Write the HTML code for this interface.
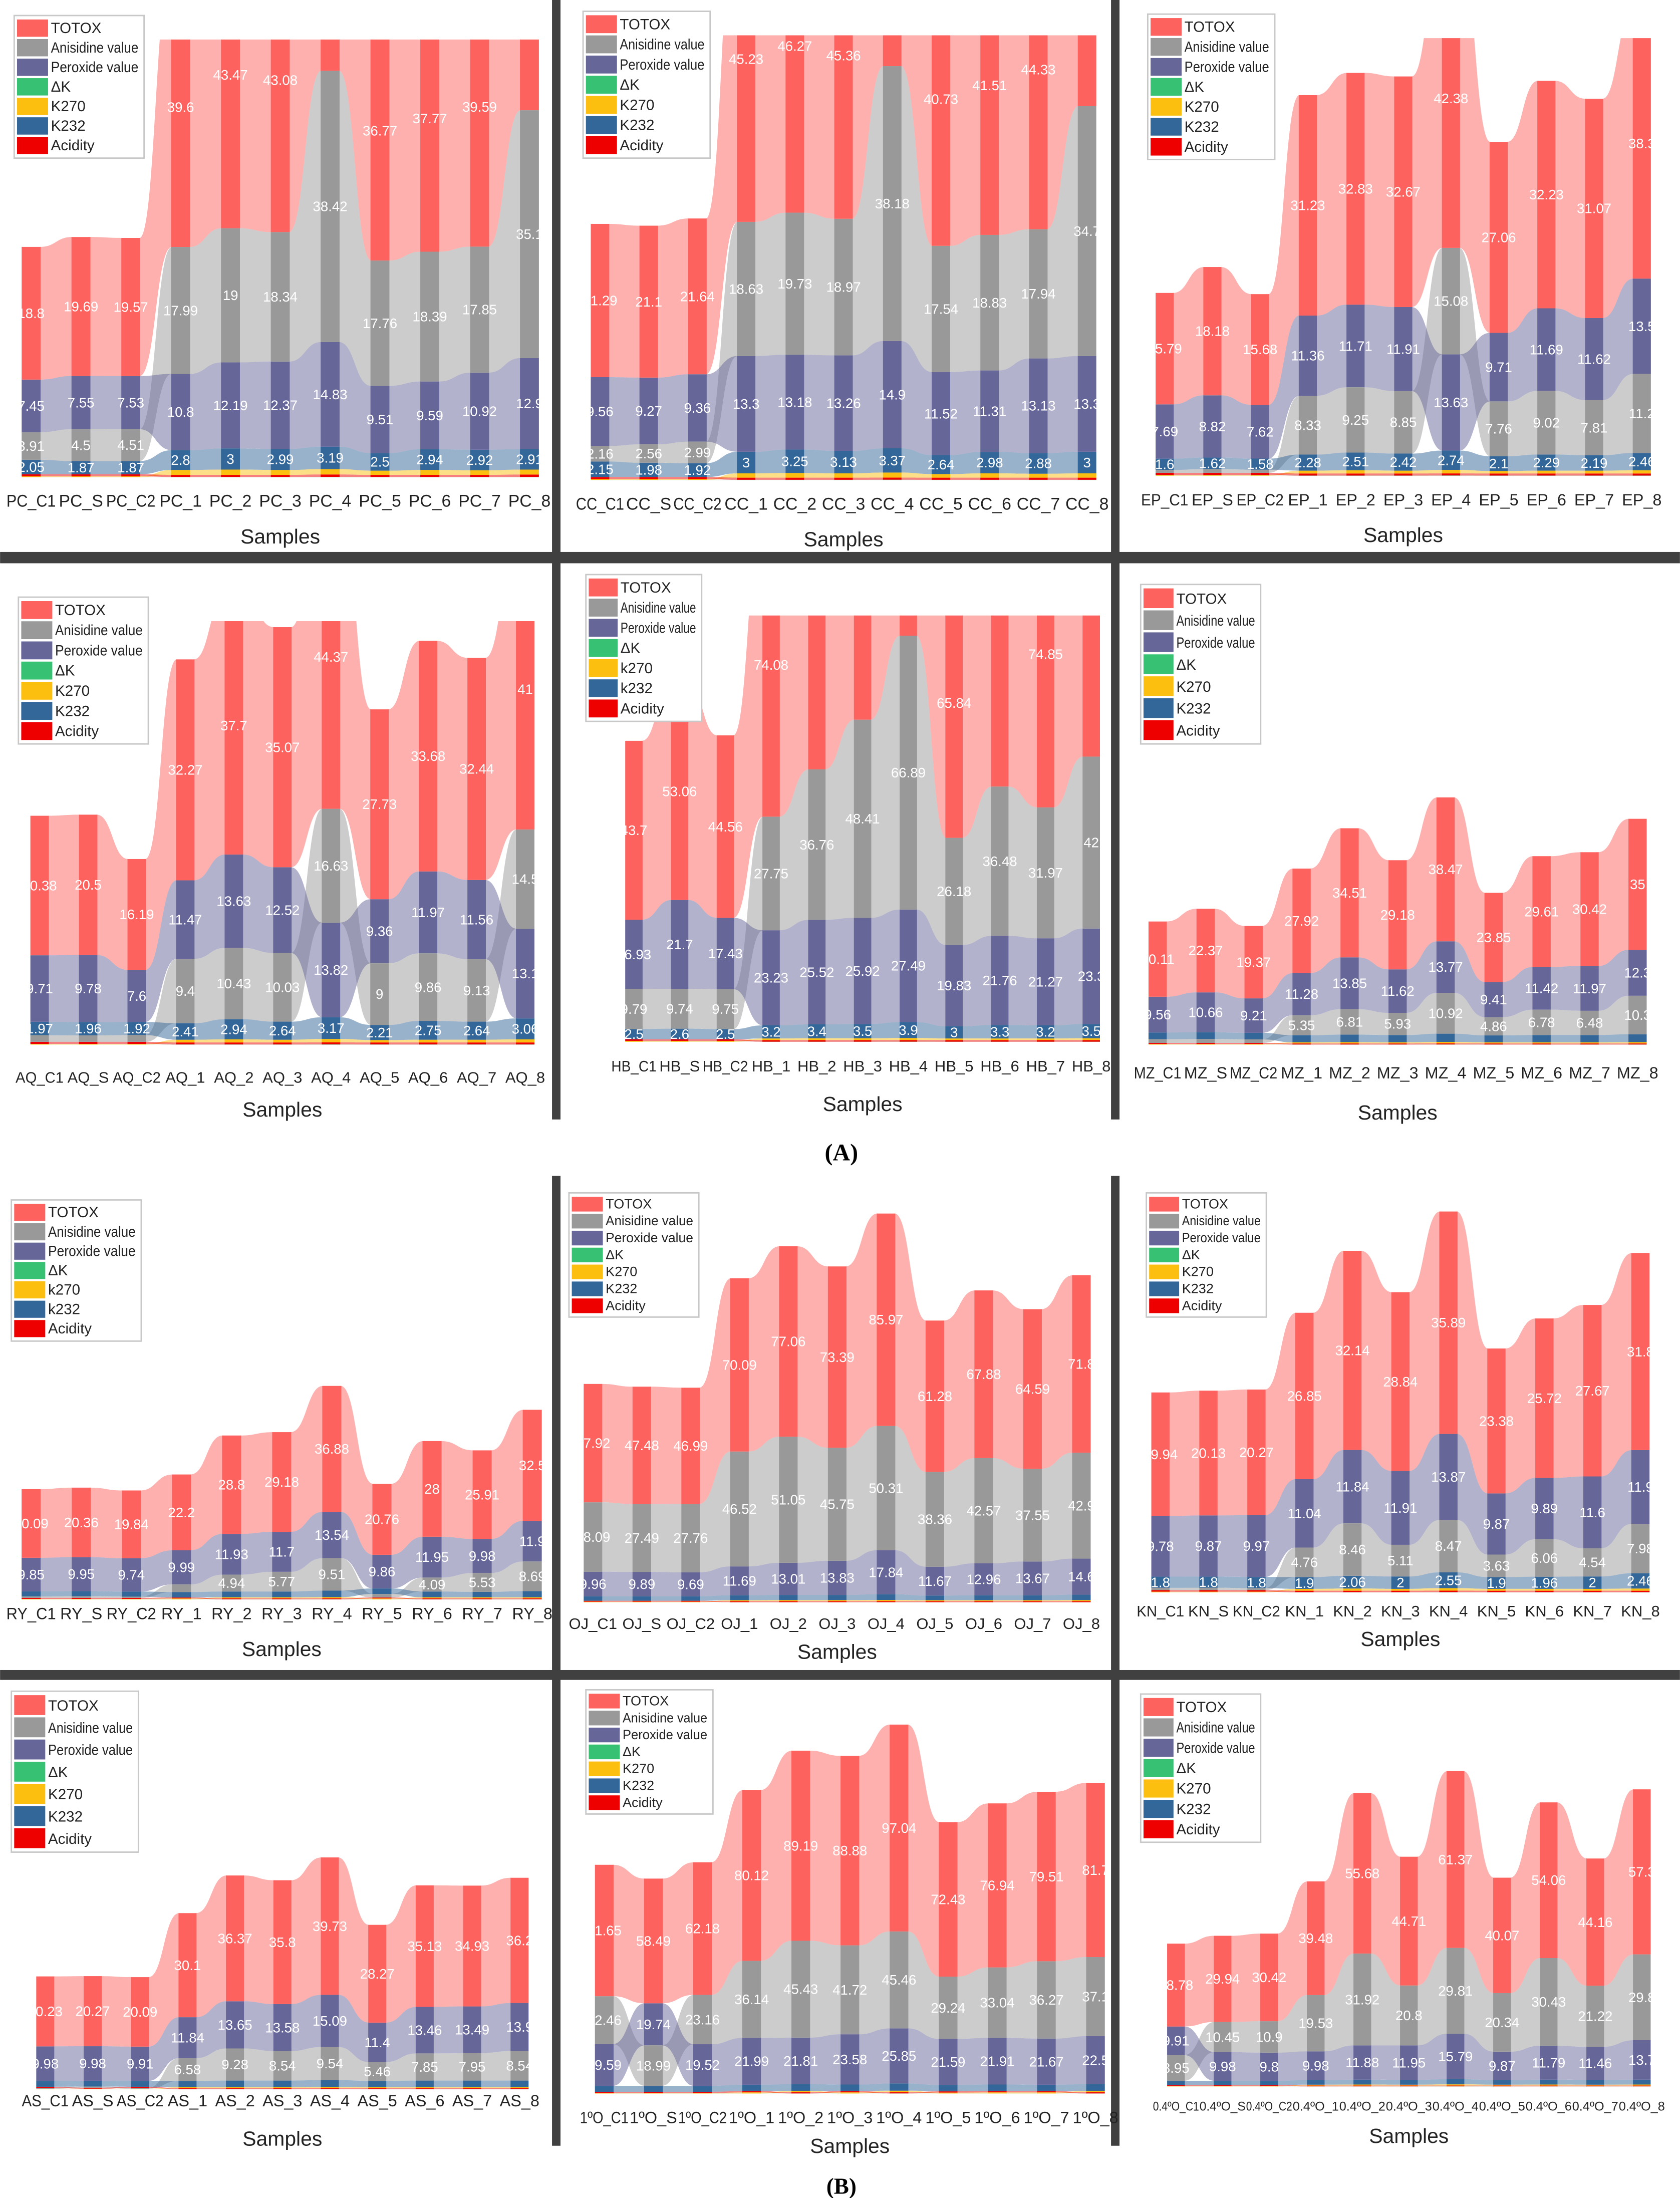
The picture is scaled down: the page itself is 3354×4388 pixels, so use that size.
<!DOCTYPE html>
<html><head><meta charset="utf-8">
<style>
html,body{margin:0;padding:0;background:#fff;}
svg{display:block;font-family:"Liberation Sans",Arial,sans-serif;}
</style></head>
<body>
<svg id="fig" width="3354" height="4388" viewBox="0 0 1190 1557" xmlns="http://www.w3.org/2000/svg">
<rect x="0" y="0" width="1190" height="1557" fill="#fff"/>
<g id="dividers" fill="#404040">
<rect x="391" y="0" width="6" height="793"/>
<rect x="787" y="0" width="6" height="793"/>
<rect x="0" y="391" width="1190" height="8"/>
<rect x="391" y="833" width="6" height="687"/>
<rect x="787" y="833" width="6" height="687"/>
<rect x="0" y="1183" width="1190" height="7"/>
</g>
<text x="596" y="822" text-anchor="middle" font-family="Liberation Serif, serif" font-size="17" font-weight="bold">(A)</text>
<text x="596" y="1554" text-anchor="middle" font-family="Liberation Serif, serif" font-size="16" font-weight="bold">(B)</text>
<g id="charts"></g>
</svg>
<script>
// ---------- data ----------
const PC_SAMPLES=["PC_C1","PC_S","PC_C2","PC_1","PC_2","PC_3","PC_4","PC_5","PC_6","PC_7","PC_8"];
const PC_TOTOX=[18.8,19.69,19.57,39.6,43.47,43.08,68.08,36.77,37.77,39.59,60.9];
const PC_AV=[3.91,4.5,4.51,17.99,19,18.34,38.42,17.76,18.39,17.85,35.1];
const PC_PV=[7.45,7.55,7.53,10.8,12.19,12.37,14.83,9.51,9.59,10.92,12.9];
const PC_K232=[2.05,1.87,1.87,2.8,3,2.99,3.19,2.5,2.94,2.92,2.91];
const PC_K270=[0.1,0.1,0.1,0.7,0.75,0.7,0.75,0.6,0.7,0.65,0.7];
const PC_ACID=[0.3,0.3,0.3,0.3,0.3,0.3,0.35,0.3,0.3,0.3,0.35];

const CC_SAMPLES=["CC_C1","CC_S","CC_C2","CC_1","CC_2","CC_3","CC_4","CC_5","CC_6","CC_7","CC_8"];
const CC_TOTOX=[21.29,21.1,21.64,45.23,46.27,45.36,68.0,40.73,41.51,44.33,61.3];
const CC_AV=[2.16,2.56,2.99,18.63,19.73,18.97,38.18,17.54,18.83,17.94,34.7];
const CC_PV=[9.56,9.27,9.36,13.3,13.18,13.26,14.9,11.52,11.31,13.13,13.3];
const CC_K232=[2.15,1.98,1.92,3,3.25,3.13,3.37,2.64,2.98,2.88,3];
const CC_K270=[0.1,0.1,0.1,0.6,0.65,0.6,0.7,0.5,0.6,0.55,0.6];
const CC_ACID=[0.3,0.3,0.3,0.3,0.3,0.3,0.3,0.3,0.3,0.3,0.3];

const EP_SAMPLES=["EP_C1","EP_S","EP_C2","EP_1","EP_2","EP_3","EP_4","EP_5","EP_6","EP_7","EP_8"];
const EP_TOTOX=[15.79,18.18,15.68,31.23,32.83,32.67,42.38,27.06,32.23,31.07,38.3];
const EP_AV=[0.41,0.54,0.44,8.33,9.25,8.85,15.08,7.76,9.02,7.81,11.2];
const EP_PV=[7.69,8.82,7.62,11.36,11.71,11.91,13.63,9.71,11.69,11.62,13.5];
const EP_K232=[1.6,1.62,1.58,2.28,2.51,2.42,2.74,2.1,2.29,2.19,2.46];
const EP_K270=[0.1,0.1,0.1,0.4,0.45,0.4,0.5,0.35,0.4,0.4,0.45];
const EP_ACID=[0.3,0.3,0.3,0.3,0.3,0.3,0.3,0.3,0.3,0.3,0.3];

const AQ_SAMPLES=["AQ_C1","AQ_S","AQ_C2","AQ_1","AQ_2","AQ_3","AQ_4","AQ_5","AQ_6","AQ_7","AQ_8"];
const AQ_TOTOX=[20.38,20.5,16.19,32.27,37.7,35.07,44.37,27.73,33.68,32.44,41.0];
const AQ_AV=[0.96,0.94,0.99,9.4,10.43,10.03,16.63,9,9.86,9.13,14.5];
const AQ_PV=[9.71,9.78,7.6,11.47,13.63,12.52,13.82,9.36,11.97,11.56,13.1];
const AQ_K232=[1.97,1.96,1.92,2.41,2.94,2.64,3.17,2.21,2.75,2.64,3.06];
const AQ_K270=[0.1,0.1,0.1,0.4,0.45,0.4,0.5,0.35,0.4,0.4,0.45];
const AQ_ACID=[0.3,0.3,0.3,0.3,0.3,0.3,0.3,0.3,0.3,0.3,0.3];

const HB_SAMPLES=["HB_C1","HB_S","HB_C2","HB_1","HB_2","HB_3","HB_4","HB_5","HB_6","HB_7","HB_8"];
const HB_TOTOX=[43.7,53.06,44.56,74.08,88.19,100.25,121.87,65.84,80.1,74.85,88.8];
const HB_AV=[9.79,9.74,9.75,27.75,36.76,48.41,66.89,26.18,36.48,31.97,42.0];
const HB_PV=[16.93,21.7,17.43,23.23,25.52,25.92,27.49,19.83,21.76,21.27,23.3];
const HB_K232=[2.5,2.6,2.5,3.2,3.4,3.5,3.9,3.0,3.3,3.2,3.5];
const HB_K270=[0.2,0.2,0.2,0.4,0.45,0.45,0.5,0.4,0.4,0.4,0.45];
const HB_ACID=[0.4,0.4,0.4,0.4,0.4,0.4,0.4,0.4,0.4,0.4,0.4];

const MZ_SAMPLES=["MZ_C1","MZ_S","MZ_C2","MZ_1","MZ_2","MZ_3","MZ_4","MZ_5","MZ_6","MZ_7","MZ_8"];
const MZ_TOTOX=[20.11,22.37,19.37,27.92,34.51,29.18,38.47,23.85,29.61,30.42,35.0];
const MZ_AV=[0.99,1.05,0.95,5.35,6.81,5.93,10.92,4.86,6.78,6.48,10.3];
const MZ_PV=[9.56,10.66,9.21,11.28,13.85,11.62,13.77,9.41,11.42,11.97,12.3];
const MZ_K232=[1.8,1.8,1.75,1.9,2.0,1.95,2.2,1.85,1.95,1.95,2.1];
const MZ_K270=[0.15,0.15,0.15,0.3,0.35,0.3,0.4,0.3,0.3,0.3,0.35];
const MZ_ACID=[0.3,0.3,0.3,0.3,0.3,0.3,0.3,0.3,0.3,0.3,0.3];

const RY_SAMPLES=["RY_C1","RY_S","RY_C2","RY_1","RY_2","RY_3","RY_4","RY_5","RY_6","RY_7","RY_8"];
const RY_TOTOX=[20.09,20.36,19.84,22.2,28.8,29.18,36.88,20.76,28,25.91,32.5];
const RY_AV=[0.39,0.46,0.36,2.22,4.94,5.77,9.51,1.04,4.09,5.53,8.69];
const RY_PV=[9.85,9.95,9.74,9.99,11.93,11.7,13.54,9.86,11.95,9.98,11.9];
const RY_K232=[1.5,1.5,1.5,1.6,1.7,1.7,1.9,1.6,1.7,1.6,1.8];
const RY_K270=[0.15,0.15,0.15,0.25,0.3,0.3,0.35,0.25,0.3,0.3,0.3];
const RY_ACID=[0.3,0.3,0.3,0.3,0.3,0.3,0.3,0.3,0.3,0.3,0.3];

const OJ_SAMPLES=["OJ_C1","OJ_S","OJ_C2","OJ_1","OJ_2","OJ_3","OJ_4","OJ_5","OJ_6","OJ_7","OJ_8"];
const OJ_TOTOX=[47.92,47.48,46.99,70.09,77.06,73.39,85.97,61.28,67.88,64.59,71.8];
const OJ_AV=[28.09,27.49,27.76,46.52,51.05,45.75,50.31,38.36,42.57,37.55,42.9];
const OJ_PV=[9.96,9.89,9.69,11.69,13.01,13.83,17.84,11.67,12.96,13.67,14.6];
const OJ_K232=[1.8,1.8,1.8,2.0,2.1,2.1,2.3,1.9,2.0,2.0,2.2];
const OJ_K270=[0.2,0.2,0.2,0.4,0.45,0.45,0.5,0.4,0.4,0.4,0.45];
const OJ_ACID=[0.4,0.4,0.4,0.4,0.4,0.4,0.4,0.4,0.4,0.4,0.4];

const KN_SAMPLES=["KN_C1","KN_S","KN_C2","KN_1","KN_2","KN_3","KN_4","KN_5","KN_6","KN_7","KN_8"];
const KN_TOTOX=[19.94,20.13,20.27,26.85,32.14,28.84,35.89,23.38,25.72,27.67,31.8];
const KN_AV=[0.38,0.39,0.33,4.76,8.46,5.11,8.47,3.63,6.06,4.54,7.98];
const KN_PV=[9.78,9.87,9.97,11.04,11.84,11.91,13.87,9.87,9.89,11.6,11.9];
const KN_K232=[1.8,1.8,1.8,1.9,2.06,2.0,2.55,1.9,1.96,2.0,2.46];
const KN_K270=[0.1,0.1,0.1,0.3,0.35,0.3,0.4,0.3,0.3,0.3,0.35];
const KN_ACID=[0.25,0.25,0.25,0.25,0.25,0.25,0.25,0.25,0.25,0.25,0.25];

const AS_SAMPLES=["AS_C1","AS_S","AS_C2","AS_1","AS_2","AS_3","AS_4","AS_5","AS_6","AS_7","AS_8"];
const AS_TOTOX=[20.23,20.27,20.09,30.1,36.37,35.8,39.73,28.27,35.13,34.93,36.2];
const AS_AV=[0.27,0.31,0.27,6.58,9.28,8.54,9.54,5.46,7.85,7.95,8.54];
const AS_PV=[9.98,9.98,9.91,11.84,13.65,13.58,15.09,11.4,13.46,13.49,13.9];
const AS_K232=[1.7,1.7,1.7,1.8,1.9,1.9,2.0,1.8,1.9,1.9,1.9];
const AS_K270=[0.15,0.15,0.15,0.3,0.3,0.3,0.35,0.3,0.3,0.3,0.3];
const AS_ACID=[0.3,0.3,0.3,0.3,0.3,0.3,0.3,0.3,0.3,0.3,0.3];

const O1_SAMPLES=["1ºO_C1","1ºO_S","1ºO_C2","1ºO_1","1ºO_2","1ºO_3","1ºO_4","1ºO_5","1ºO_6","1ºO_7","1ºO_8"];
const O1_TOTOX=[61.65,58.49,62.18,80.12,89.19,88.88,97.04,72.43,76.94,79.51,81.7];
const O1_AV=[22.46,18.99,23.16,36.14,45.43,41.72,45.46,29.24,33.04,36.27,37.1];
const O1_PV=[19.59,19.74,19.52,21.99,21.81,23.58,25.85,21.59,21.91,21.67,22.5];
const O1_K232=[2.8,2.8,2.8,3.0,3.2,3.1,3.4,3.0,3.1,3.0,3.2];
const O1_K270=[0.2,0.2,0.2,0.5,0.6,0.5,0.7,0.4,0.5,0.5,0.6];
const O1_ACID=[0.6,0.6,0.6,0.6,0.6,0.6,0.6,0.6,0.6,0.6,0.6];

const O4_SAMPLES=["0.4ºO_C1","0.4ºO_S","0.4ºO_C2","0.4ºO_1","0.4ºO_2","0.4ºO_3","0.4ºO_4","0.4ºO_5","0.4ºO_6","0.4ºO_7","0.4ºO_8"];
const O4_TOTOX=[28.78,29.94,30.42,39.48,55.68,44.71,61.37,40.07,54.06,44.16,57.3];
const O4_AV=[8.95,10.45,10.9,19.53,31.92,20.8,29.81,20.34,30.43,21.22,29.8];
const O4_PV=[9.91,9.98,9.8,9.98,11.88,11.95,15.79,9.87,11.79,11.46,13.7];
const O4_K232=[1.5,1.5,1.5,1.6,1.7,1.7,1.8,1.6,1.7,1.7,1.7];
const O4_K270=[0.15,0.15,0.15,0.3,0.35,0.3,0.4,0.3,0.35,0.3,0.35];
const O4_ACID=[0.3,0.3,0.3,0.3,0.3,0.3,0.3,0.3,0.3,0.3,0.3];

const DK=[0.01,0.01,0.01,0.02,0.02,0.02,0.03,0.02,0.02,0.02,0.02];

// ---------- layout (display coords) ----------
const panels=[
 {id:"pc",s:PC_SAMPLES,t:PC_TOTOX,av:PC_AV,pv:PC_PV,k232:PC_K232,k270:PC_K270,ac:PC_ACID,x0:22,x1:375,base:338,clip:28,sc:5.0,tickY:359,titleY:385,tfs:12,leg:[10,11,92,101],lc:false},
 {id:"cc",s:CC_SAMPLES,t:CC_TOTOX,av:CC_AV,pv:CC_PV,k232:CC_K232,k270:CC_K270,ac:CC_ACID,x0:425,x1:770,base:340,clip:25,sc:5.1,tickY:361,titleY:387,tfs:12,leg:[413,8,90,104],lc:false},
 {id:"ep",s:EP_SAMPLES,t:EP_TOTOX,av:EP_AV,pv:EP_PV,k232:EP_K232,k270:EP_K270,ac:EP_ACID,x0:825,x1:1163,base:337,clip:27,sc:5.0,tickY:358,titleY:384,tfs:11.5,leg:[813,10,90,103],lc:false},
 {id:"aq",s:AQ_SAMPLES,t:AQ_TOTOX,av:AQ_AV,pv:AQ_PV,k232:AQ_K232,k270:AQ_K270,ac:AQ_ACID,x0:28,x1:372,base:740,clip:440,sc:4.85,tickY:767,titleY:791,tfs:11,leg:[13,423,92,104],lc:false},
 {id:"hb",s:HB_SAMPLES,t:HB_TOTOX,av:HB_AV,pv:HB_PV,k232:HB_K232,k270:HB_K270,ac:HB_ACID,x0:449,x1:773,base:738,clip:436,sc:2.9,tickY:759,titleY:787,tfs:11,leg:[415,407,82,104],lc:true},
 {id:"mz",s:MZ_SAMPLES,t:MZ_TOTOX,av:MZ_AV,pv:MZ_PV,k232:MZ_K232,k270:MZ_K270,ac:MZ_ACID,x0:820,x1:1160,base:740,clip:400,sc:2.65,tickY:764,titleY:793,tfs:11.5,leg:[808,414,85,113],lc:false},
 {id:"ry",s:RY_SAMPLES,t:RY_TOTOX,av:RY_AV,pv:RY_PV,k232:RY_K232,k270:RY_K270,ac:RY_ACID,x0:22,x1:377,base:1133,clip:840,sc:2.42,tickY:1147,titleY:1173,tfs:11.5,leg:[8,850,92,100],lc:true},
 {id:"oj",s:OJ_SAMPLES,t:OJ_TOTOX,av:OJ_AV,pv:OJ_PV,k232:OJ_K232,k270:OJ_K270,ac:OJ_ACID,x0:420,x1:766,base:1135,clip:840,sc:1.75,tickY:1154,titleY:1175,tfs:11,leg:[403,845,92,88],lc:false},
 {id:"kn",s:KN_SAMPLES,t:KN_TOTOX,av:KN_AV,pv:KN_PV,k232:KN_K232,k270:KN_K270,ac:KN_ACID,x0:822,x1:1162,base:1128,clip:840,sc:4.39,tickY:1145,titleY:1166,tfs:11,leg:[812,845,85,88],lc:false},
 {id:"as",s:AS_SAMPLES,t:AS_TOTOX,av:AS_AV,pv:AS_PV,k232:AS_K232,k270:AS_K270,ac:AS_ACID,x0:32,x1:368,base:1480,clip:1195,sc:2.45,tickY:1492,titleY:1520,tfs:11.5,leg:[8,1198,90,114],lc:false},
 {id:"o1",s:O1_SAMPLES,t:O1_TOTOX,av:O1_AV,pv:O1_PV,k232:O1_K232,k270:O1_K270,ac:O1_ACID,x0:428,x1:776,base:1483,clip:1208,sc:1.51,tickY:1504,titleY:1525,tfs:11.5,leg:[415,1197,90,88],lc:false},
 {id:"o4",s:O4_SAMPLES,t:O4_TOTOX,av:O4_AV,pv:O4_PV,k232:O4_K232,k270:O4_K270,ac:O4_ACID,x0:833,x1:1163,base:1478,clip:1195,sc:2.04,tickY:1495,titleY:1518,tfs:9,leg:[808,1200,85,105],lc:false}
];
const LAYERS=[
 {key:"ac",name:"acidity",bar:"#ee0000"},
 {key:"dk",name:"delta-k",bar:"#36c272"},
 {key:"k270",name:"k270",bar:"#fcbf10"},
 {key:"k232",name:"k232",bar:"#336699"},
 {key:"pv",name:"peroxide",bar:"#666699"},
 {key:"av",name:"anisidine",bar:"#999999"},
 {key:"t",name:"totox",bar:"#fd625e"}
];
const LABELED={t:1,av:1,pv:1,k232:1};
const NS="http://www.w3.org/2000/svg";
function mk(tag,attrs,parent){const e=document.createElementNS(NS,tag);for(const k in attrs)e.setAttribute(k,attrs[k]);if(parent)parent.appendChild(e);return e;}
const root=document.getElementById("charts");

panels.forEach((p,pi)=>{
  const g=mk("g",{},root);
  
  
  const n=p.s.length;
  const step=(p.x1-p.x0)/(n-1);
  const bw=step*0.38;
  const xS=i=>p.x0+i*step;
  const yS=v=>p.base-v*p.sc;
  const cp=mk("clipPath",{id:"clip"+pi},g);
  mk("rect",{x:p.x0-bw,y:p.clip,width:p.x1-p.x0+2*bw,height:p.base-p.clip+1},cp);
  const plot=mk("g",{"clip-path":"url(#clip"+pi+")"},g);
  const vals=i=>({ac:p.ac[i],dk:DK[i],k270:p.k270[i],k232:p.k232[i],pv:p.pv[i],av:p.av[i],t:p.t[i]});
  const pos=[];
  for(let i=0;i<n;i++){
    const v=vals(i);
    const keys=["ac","dk","k270","k232","pv","av"].sort((a,b)=>v[a]-v[b]);
    keys.push("t");
    let cum=0;const o={};
    keys.forEach(k=>{o[k]={lo:cum,hi:cum+v[k],v:v[k]};cum+=v[k];});
    pos.push(o);
  }
  const rg=mk("g",{},plot);
  
  
  LAYERS.slice().reverse().forEach(L=>{
    for(let i=0;i<n-1;i++){
      const a=pos[i][L.key],b=pos[i+1][L.key];
      const xa=xS(i)+bw/2-0.5,xb=xS(i+1)-bw/2+0.5,xm=(xa+xb)/2;
      const d=`M${xa},${yS(a.hi)} C${xm},${yS(a.hi)} ${xm},${yS(b.hi)} ${xb},${yS(b.hi)} L${xb},${yS(b.lo)} C${xm},${yS(b.lo)} ${xm},${yS(a.lo)} ${xa},${yS(a.lo)} Z`;
      const r=mk("path",{d:d,fill:L.bar,"fill-opacity":"0.5"},rg);
      
      
    }
  });
  for(let i=0;i<n;i++){
    LAYERS.forEach(L=>{
      const s=pos[i][L.key];
      const r=mk("rect",{x:xS(i)-bw/2,y:yS(s.hi),width:bw,height:Math.max(0,(s.hi-s.lo)*p.sc),fill:L.bar},plot);
      
      
    });
  }
  for(let i=0;i<n;i++){
    LAYERS.forEach(L=>{
      if(!LABELED[L.key])return;
      const s=pos[i][L.key];
      const h=(s.hi-s.lo)*p.sc;
      const cy=yS((s.hi+s.lo)/2);
      if(h<7||cy<p.clip+6)return;
      const t=mk("text",{x:xS(i),y:cy+3.4,"text-anchor":"middle","font-size":"9.8",fill:"#fff"},g);
      t.textContent=String(s.v);
      
      
    });
  }
  for(let i=0;i<n;i++){
    const t=mk("text",{x:xS(i),y:p.tickY,"text-anchor":"middle","font-size":p.tfs,fill:"#222"},g);
    t.textContent=p.s[i];
    
    
    const w=t.getComputedTextLength();
    if(w>step*0.99){t.setAttribute("textLength",step*0.99);t.setAttribute("lengthAdjust","spacingAndGlyphs");}
  }
  const ti=mk("text",{x:(p.x0+p.x1)/2,y:p.titleY,"text-anchor":"middle","font-size":"14.5",fill:"#222"},g);
  ti.textContent="Samples";
  
  
  const [lx,ly,lw,lh]=p.leg;
  const lg=mk("g",{},g);
  
  
  mk("rect",{x:lx,y:ly,width:lw,height:lh,fill:"#fff",stroke:"#c8c8c8","stroke-width":"1"},lg);
  const names=["TOTOX","Anisidine value","Peroxide value","ΔK",p.lc?"k270":"K270",p.lc?"k232":"K232","Acidity"];
  const cols=["#fd625e","#999999","#666699","#36c272","#fcbf10","#336699","#ee0000"];
  const rh=(lh-4)/7;
  for(let k=0;k<7;k++){
    const y=ly+2+k*rh;
    const sw=mk("rect",{x:lx+2,y:y+0.8,width:Math.min(22,lw*0.25),height:rh-1.6,fill:cols[k]},lg);
    
    
    const tx=mk("text",{x:lx+4+Math.min(22,lw*0.25),y:y+rh*0.75,"font-size":Math.min(10.5,rh*0.8),fill:"#222"},lg);
    tx.textContent=names[k];
    
    
    const w=tx.getComputedTextLength();const avail=lw-8-Math.min(22,lw*0.25);
    if(w>avail){tx.setAttribute("textLength",avail);tx.setAttribute("lengthAdjust","spacingAndGlyphs");}
  }
});
</script>
</body></html>
